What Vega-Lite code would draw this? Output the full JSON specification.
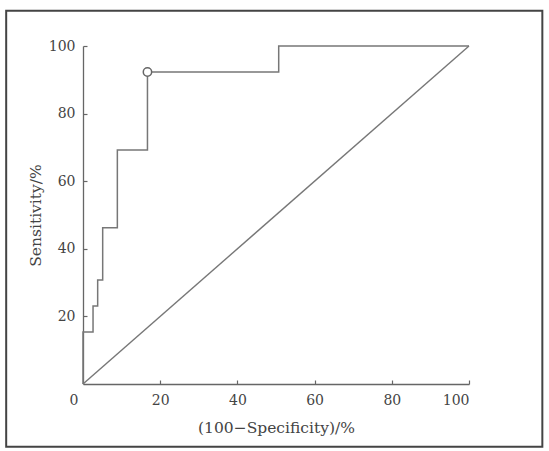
{
  "$schema": "https://vega.github.io/schema/vega-lite/v6.json",
  "width": 386,
  "height": 338,
  "padding": {"left": 5, "top": 9, "right": 5, "bottom": 5},
  "background": "white",
  "config": {
    "view": {"stroke": null},
    "font": "DejaVu Serif",
    "axis": {
      "grid": false,
      "domainColor": "#666",
      "domainWidth": 1.3,
      "tickColor": "#666",
      "tickWidth": 1.2,
      "labelFont": "DejaVu Serif",
      "labelFontSize": 14,
      "labelColor": "#444",
      "titleFont": "DejaVu Serif",
      "titleFontSize": 15.5,
      "titleFontWeight": "normal",
      "titleColor": "#444"
    }
  },
  "datasets": {
    "roc": [
      {"i": 0, "fpr": 0, "sens": 0},
      {"i": 1, "fpr": 0, "sens": 15.4},
      {"i": 2, "fpr": 2.6, "sens": 23.1},
      {"i": 3, "fpr": 3.8, "sens": 30.8},
      {"i": 4, "fpr": 5.1, "sens": 46.2},
      {"i": 5, "fpr": 8.9, "sens": 69.2},
      {"i": 6, "fpr": 16.7, "sens": 92.3},
      {"i": 7, "fpr": 50.7, "sens": 100},
      {"i": 8, "fpr": 100, "sens": 100}
    ],
    "ref": [
      {"fpr": 0, "sens": 0},
      {"fpr": 100, "sens": 100}
    ],
    "cut": [
      {"fpr": 16.7, "sens": 92.3}
    ]
  },
  "layer": [
    {
      "data": {"values": [{"frame": 1}]},
      "mark": {"type": "rect", "filled": false, "stroke": "#444", "strokeWidth": 2, "clip": false},
      "encoding": {
        "x": {"datum": -19.9, "type": "quantitative"},
        "x2": {"datum": 119.0},
        "y": {"datum": 110.4, "type": "quantitative"},
        "y2": {"datum": -18.55}
      }
    },
    {
      "data": {"name": "ref"},
      "mark": {"type": "line", "color": "#777", "strokeWidth": 1.4},
      "encoding": {
        "x": {"field": "fpr", "type": "quantitative"},
        "y": {"field": "sens", "type": "quantitative"}
      }
    },
    {
      "data": {"name": "roc"},
      "mark": {"type": "line", "color": "#777", "strokeWidth": 1.5, "interpolate": "step-after"},
      "encoding": {
        "x": {
          "field": "fpr", "type": "quantitative",
          "scale": {"domain": [0, 100], "nice": false, "zero": false},
          "axis": {
            "values": [0, 20, 40, 60, 80, 100],
            "title": "(100−Specificity)/%",
            "tickSize": -4,
            "labelPadding": 13,
            "titlePadding": 13,
            "labelOffset": {"condition": {"test": "datum.value === 0", "value": -14}, "value": 0},
            "tickOpacity": {"condition": {"test": "datum.value === 0", "value": 0}, "value": 1}
          }
        },
        "y": {
          "field": "sens", "type": "quantitative",
          "scale": {"domain": [0, 100], "nice": false, "zero": false},
          "axis": {
            "values": [20, 40, 60, 80, 100],
            "title": "Sensitivity/%",
            "tickSize": -4,
            "labelPadding": 12,
            "titlePadding": 5
          }
        },
        "order": {"field": "i", "type": "quantitative"}
      }
    },
    {
      "data": {"name": "cut"},
      "mark": {"type": "point", "filled": true, "fill": "white", "stroke": "#666", "strokeWidth": 1.5, "size": 70, "opacity": 1},
      "encoding": {
        "x": {"field": "fpr", "type": "quantitative"},
        "y": {"field": "sens", "type": "quantitative"}
      }
    }
  ]
}
